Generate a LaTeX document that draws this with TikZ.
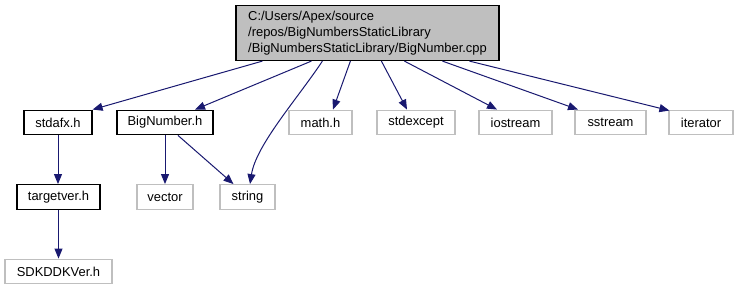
\documentclass[tikz,border=0pt]{standalone}
\usepackage{fontspec}
\setmainfont{Liberation Sans}
\usetikzlibrary{arrows.meta}
\definecolor{edgeblue}{HTML}{191970}
\definecolor{boxgray}{HTML}{BFBFBF}
\definecolor{rootfill}{HTML}{BFBFBF}
\tikzset{
  px/.style={x=0.75pt,y=-0.75pt},
  lbl/.style={font=\fontsize{9.7}{12}\selectfont, inner sep=0pt, text=black},
  filebox/.style={lbl, draw=black, line width=0.9pt, fill=white, minimum height=18.5pt},
  sysbox/.style={lbl, draw=boxgray, line width=0.9pt, fill=white, minimum height=18.5pt},
  rootbox/.style={lbl, draw=black, line width=0.9pt, fill=rootfill, align=left,
                  minimum width=197.25pt, minimum height=41.25pt},
  dep/.style={draw=edgeblue, line width=0.75pt,
              -{Triangle[length=7.5pt,width=6pt,fill=edgeblue]}}
}
\begin{document}
\begin{tikzpicture}[px]
  \useasboundingbox (0,0) rectangle (738,291);
  % the compiled source file
  \node[rootbox] (root) at (367.5,33)
    {C:/Users/Apex/source\\/repos/BigNumbersStaticLibrary\\/BigNumbersStaticLibrary/BigNumber.cpp};
  % project headers
  \node[filebox, minimum width=51pt]   (stdafx)    at (58,122.5)   {stdafx.h};
  \node[filebox, minimum width=72pt]   (bignum)    at (165,122.5)  {BigNumber.h};
  \node[filebox, minimum width=62.25pt] (targetver) at (58.5,197)  {targetver.h};
  % system headers
  \node[sysbox, minimum width=47.25pt] (math)      at (320.5,122.5) {math.h};
  \node[sysbox, minimum width=58.5pt]  (stdexcept) at (416,122.5)   {stdexcept};
  \node[sysbox, minimum width=54.75pt] (iostream)  at (515.5,122.5) {iostream};
  \node[sysbox, minimum width=53.25pt] (sstream)   at (610.5,122.5) {sstream};
  \node[sysbox, minimum width=48pt]    (iterator)  at (701,122.5)   {iterator};
  \node[sysbox, minimum width=42pt]    (vector)    at (165,197)     {vector};
  \node[sysbox, minimum width=41.25pt] (string)    at (247.5,197)   {string};
  \node[sysbox, minimum width=80.25pt] (sdkddk)    at (58.5,271.5)  {SDKDDKVer.h};

  % include edges from the source file
  \draw[dep] ([shift={(27,0)}]root.south west)  -- (stdafx.north east);
  \draw[dep] ([shift={(76,0)}]root.south west)  -- ([shift={(30,0)}]bignum.north);
  \draw[dep] ([shift={(87,0)}]root.south west)
     .. controls (298,98) and (256,145) .. ([shift={(2.5,0)}]string.north);
  \draw[dep] ([shift={(115,0)}]root.south west) -- ([shift={(12.5,0)}]math.north);
  \draw[dep] ([shift={(146,0)}]root.south west) -- ([shift={(-9,0)}]stdexcept.north);
  \draw[dep] ([shift={(169,0)}]root.south west) -- ([shift={(-18.5,0)}]iostream.north);
  \draw[dep] ([shift={(207,0)}]root.south west) -- ([shift={(-32.5,0)}]sstream.north);
  \draw[dep] ([shift={(234,0)}]root.south west) -- ([shift={(1,1)}]iterator.north west);

  % nested includes
  \draw[dep] (stdafx.south) -- (targetver.north -| stdafx.south);
  \draw[dep] (bignum.south) -- (vector.north);
  \draw[dep] ([shift={(13,0)}]bignum.south) -- ([shift={(-14,0)}]string.north);
  \draw[dep] (targetver.south) -- (sdkddk.north);
\end{tikzpicture}
\end{document}
